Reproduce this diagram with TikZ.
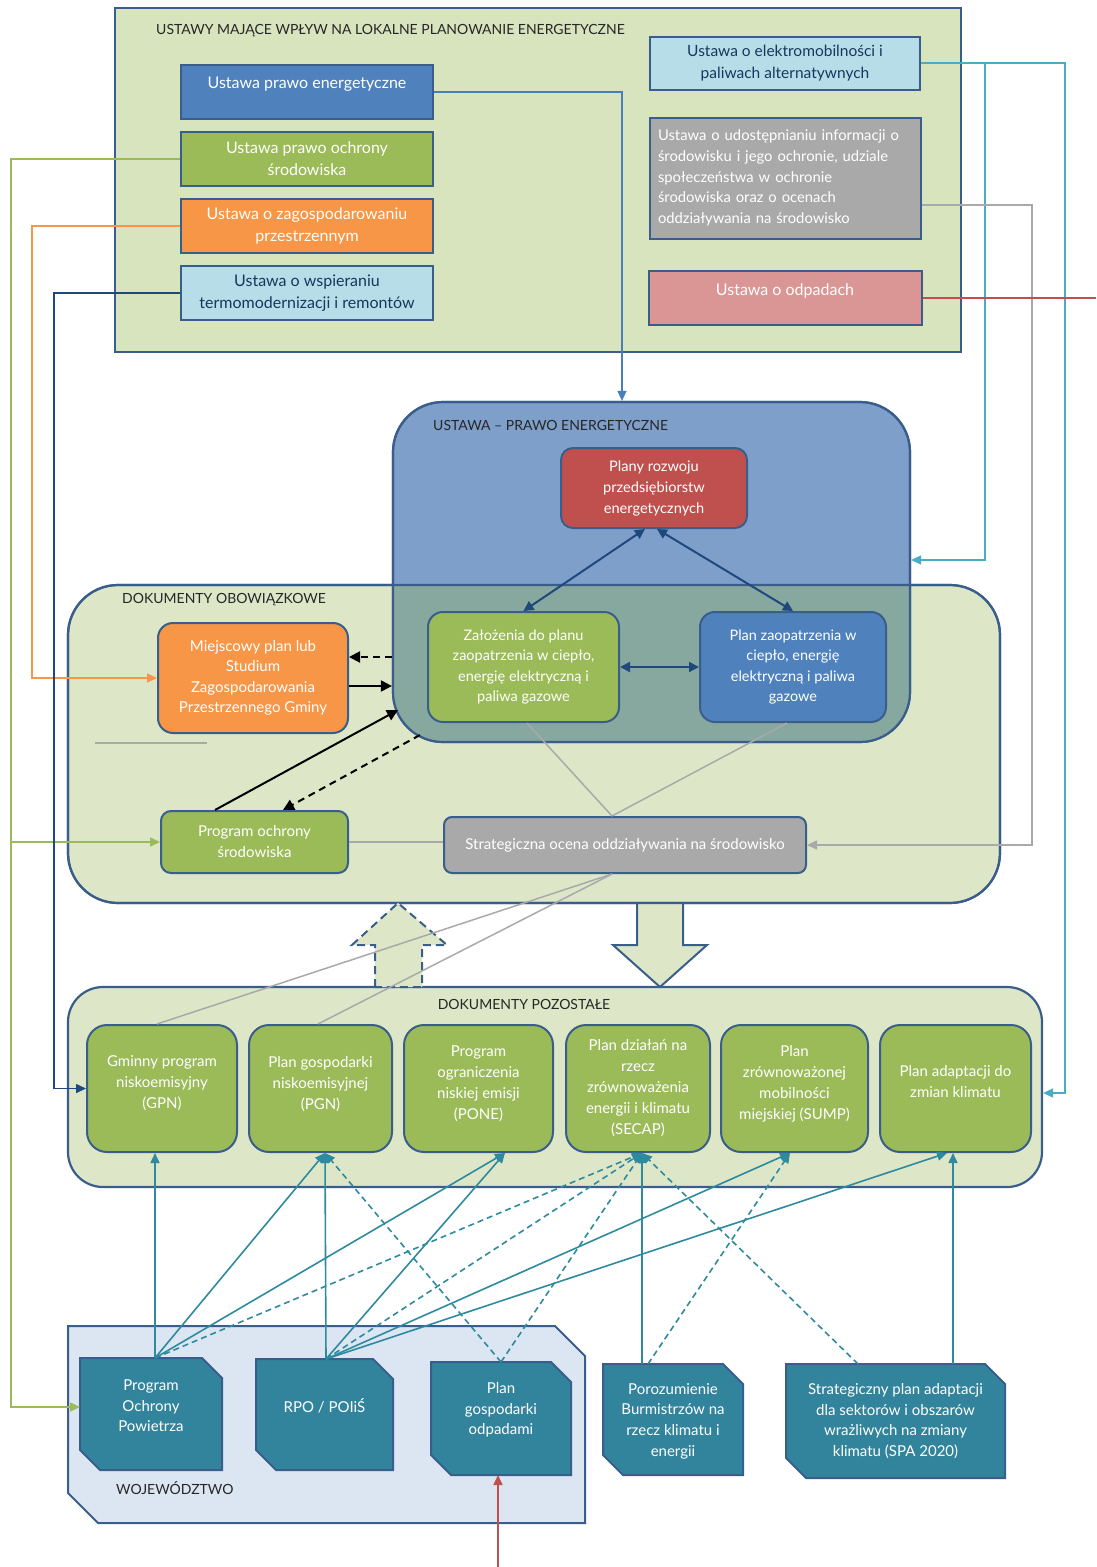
\documentclass[tikz,border=0pt]{standalone}
\usepackage{fontspec}
\setmainfont{Lato}
\usetikzlibrary{arrows.meta}
\definecolor{bord}{HTML}{3A5E8C}
\definecolor{lgreen}{HTML}{D8E4BD}
\definecolor{lgreenb}{HTML}{DDE7C8}
\definecolor{bluebox}{HTML}{7F9FCB}
\definecolor{overl}{HTML}{86A89F}
\definecolor{gr}{HTML}{9BBB59}
\definecolor{org}{HTML}{F79646}
\definecolor{blu}{HTML}{4F81BD}
\definecolor{rd}{HTML}{C0504D}
\definecolor{gry}{HTML}{A9A9A9}
\definecolor{pnk}{HTML}{D99694}
\definecolor{lbl}{HTML}{B7DEE8}
\definecolor{tbox}{HTML}{31849B}
\definecolor{woj}{HTML}{DCE6F2}
\definecolor{tealc}{HTML}{2E8A9E}
\definecolor{cyanl}{HTML}{4BACC6}
\definecolor{dblue}{HTML}{1F497D}
\definecolor{dtext}{HTML}{17375E}
\definecolor{lineblue}{HTML}{4A7EBB}
\newcommand\fsz[2]{\fontsize{#1pt}{#2pt}\selectfont}
\newcommand\snipshape[4]{\filldraw[fill=tbox, draw=bord, line width=2pt] (#1,#2) -- ({#3-20},#2) -- (#3,{#2+20}) -- (#3,#4) -- ({#1+20},#4) -- (#1,{#4-20}) -- cycle;}
\begin{document}
\begin{tikzpicture}[x=1pt,y=-1pt,
  cont/.style={draw=bord, line width=2.2pt},
  bx/.style={draw=bord, line width=2pt, text=white, align=center, inner sep=1pt},
  ttl/.style={text=black!85, font=\fsz{14}{17}, anchor=west, inner sep=0pt},
  wt/.style={text=white, align=center, inner sep=0pt},
  snipn/.style={draw=none, inner sep=0pt, outer sep=0pt},
  gbox/.style={bx, fill=gr, rounded corners=20pt, minimum height=127pt, font=\fsz{15}{21}},
  myarr/.style={-{Triangle[length=10pt,width=9pt]}},
  ln/.style={line width=1.6pt, myarr},
  gln/.style={draw=gry, line width=1.5pt},
  dbl/.style={draw=dblue, line width=2pt, {Triangle[length=10pt,width=10pt]}-{Triangle[length=10pt,width=10pt]}},
  blk/.style={draw=black, line width=2pt, -{Triangle[length=11pt,width=11pt]}},
  blkd/.style={blk, dash pattern=on 7pt off 5pt},
  tl/.style={draw=tealc, line width=1.6pt, -{Triangle[length=10pt,width=9pt]}},
  tld/.style={tl, dash pattern=on 6pt off 4pt}
]
\useasboundingbox (0,0) rectangle (1096,1567);

% ---------- top container ----------
\node[cont, fill=lgreen, minimum width=846pt, minimum height=344pt] (TOP) at (538,180) {};
\node[ttl] (TOPt) at (156,31) {USTAWY MAJĄCE WPŁYW NA LOKALNE PLANOWANIE ENERGETYCZNE};

\node[bx, fill=blu, minimum width=252pt, minimum height=54pt] (uPE) at (307,92) {};
\node[wt, font=\fsz{16}{22}] (uPEt) at (307,84) {Ustawa prawo energetyczne};
\node[bx, fill=gr, minimum width=252pt, minimum height=54pt, font=\fsz{16}{22}] (uPOS) at (307,159) {Ustawa prawo ochrony\\środowiska};
\node[bx, fill=org, minimum width=252pt, minimum height=54pt, font=\fsz{16}{22}] (uZP) at (307,226) {Ustawa o zagospodarowaniu\\przestrzennym};
\node[bx, fill=lbl, text=dtext, minimum width=252pt, minimum height=54pt, font=\fsz{16}{22}] (uTR) at (307,293) {Ustawa o wspieraniu\\termomodernizacji i remontów};
\node[bx, fill=lbl, text=dtext, minimum width=270pt, minimum height=53pt, font=\fsz{15.5}{22}] (uEM) at (785,63) {Ustawa o elektromobilności i\\paliwach alternatywnych};
\node[bx, fill=gry, minimum width=271pt, minimum height=121pt, text width=254pt, align=left, font=\fsz{14.8}{20.7}] (uOS) at (785,178) {Ustawa o udostępnianiu informacji o\\środowisku i jego ochronie, udziale\\społeczeństwa w ochronie\\środowiska oraz o ocenach\\oddziaływania na środowisko};
\node[bx, fill=pnk, minimum width=273pt, minimum height=54pt] (uOD) at (785,298) {};
\node[wt, font=\fsz{16}{22}] (uODt) at (785,291) {Ustawa o odpadach};

% ---------- middle containers ----------
\node[cont, fill=lgreenb, rounded corners=50pt, minimum width=932pt, minimum height=318pt] (DO) at (534,744) {};
\node[cont, fill=bluebox, rounded corners=50pt, minimum width=517pt, minimum height=340pt] (UPE) at (651.5,572) {};
\begin{scope}
  \clip[rounded corners=50pt] (68,585) rectangle (1000,903);
  \fill[overl, rounded corners=50pt] (393,402) rectangle (910,742);
\end{scope}
\draw[cont, rounded corners=50pt] (68,585) rectangle (1000,903);
\draw[cont, rounded corners=50pt] (393,402) rectangle (910,742);
\node[ttl] (UPEt) at (433,425) {USTAWA – PRAWO ENERGETYCZNE};
\node[ttl] (DOt) at (122,600) {DOKUMENTY OBOWIĄZKOWE};

\node[bx, fill=rd, rounded corners=12pt, minimum width=186pt, minimum height=80pt, font=\fsz{14.6}{21}] (PRE) at (654,488) {Plany rozwoju\\przedsiębiorstw\\energetycznych};
\node[bx, fill=gr, rounded corners=15pt, minimum width=191pt, minimum height=110pt, font=\fsz{14.5}{20.5}] (ZAL) at (523.5,667) {Założenia do planu\\zaopatrzenia w ciepło,\\energię elektryczną i\\paliwa gazowe};
\node[bx, fill=blu, rounded corners=15pt, minimum width=186pt, minimum height=110pt, font=\fsz{14.5}{20.5}] (PZ) at (793,667) {Plan zaopatrzenia w\\ciepło, energię\\elektryczną i paliwa\\gazowe};
\node[bx, fill=org, rounded corners=15pt, minimum width=190pt, minimum height=110pt, font=\fsz{15}{20.5}] (MPL) at (253,678) {Miejscowy plan lub\\Studium\\Zagospodarowania\\Przestrzennego Gminy};
\node[bx, fill=gr, rounded corners=10pt, minimum width=187pt, minimum height=62pt, font=\fsz{15}{21}] (POS2) at (254.5,842) {Program ochrony\\środowiska};
\node[bx, fill=gry, rounded corners=8pt, minimum width=362pt, minimum height=56pt, font=\fsz{15}{20}] (SOO) at (625,845) {Strategiczna ocena oddziaływania na środowisko};
\draw[gry, line width=2pt] (95,743) -- (207,743);

% ---------- lower container ----------
\node[cont, fill=lgreenb, rounded corners=35pt, minimum width=974pt, minimum height=200pt] (DP) at (555,1087) {};
\node[ttl, anchor=center] (DPt) at (524,1004) {DOKUMENTY POZOSTAŁE};
\node[gbox, minimum width=150pt] (GPN) at (162,1088.5) {Gminny program\\niskoemisyjny\\(GPN)\\[-9pt]};
\node[gbox, minimum width=143pt] (PGN) at (320.5,1088.5) {Plan gospodarki\\niskoemisyjnej\\(PGN)\\[-9pt]};
\node[gbox, minimum width=149pt] (PONE) at (478.5,1088.5) {Program\\ograniczenia\\niskiej emisji\\(PONE)\\[-9pt]};
\node[gbox, minimum width=144pt] (SECAP) at (638,1088.5) {Plan działań na\\rzecz\\zrównoważenia\\energii i klimatu\\(SECAP)};
\node[gbox, minimum width=147pt] (SUMP) at (794.5,1088.5) {Plan\\zrównoważonej\\mobilności\\miejskiej (SUMP)\\[-9pt]};
\node[gbox, minimum width=151pt] (ADA) at (955.5,1088.5) {Plan adaptacji do\\zmian klimatu\\[-6pt]};

% block arrows
\filldraw[fill=lgreenb, draw=bord, line width=2pt, dash pattern=on 8pt off 5pt] (375,987) -- (375,945) -- (352,945) -- (398,903) -- (447,945) -- (422,945) -- (422,987) -- cycle;
\filldraw[fill=lgreenb, draw=bord, line width=2pt] (637,903) -- (637,945) -- (613,945) -- (660,987) -- (707,945) -- (683,945) -- (683,903) -- cycle;

% ---------- wojewodztwo ----------
\filldraw[fill=woj, draw=bord, line width=2pt] (68,1326) -- (555,1326) -- (585,1356) -- (585,1523) -- (98,1523) -- (68,1493) -- cycle;
\node[ttl] (WOJt) at (116,1488) {WOJEWÓDZTWO};

\snipshape{80}{1358}{222}{1470}
\snipshape{256}{1359}{393}{1470}
\snipshape{431}{1362}{571}{1475}
\snipshape{603}{1364}{743}{1475}
\snipshape{786}{1364}{1005}{1478}
\node[snipn, minimum width=142pt, minimum height=112pt] (POP) at (151,1414) {};
\node[snipn, minimum width=137pt, minimum height=111pt] (RPO) at (324.5,1414.5) {};
\node[snipn, minimum width=140pt, minimum height=113pt] (PGO) at (501,1418.5) {};
\node[snipn, minimum width=140pt, minimum height=111pt] (POR) at (673,1419.5) {};
\node[snipn, minimum width=219pt, minimum height=114pt] (SPA) at (895.5,1421) {};
\node[wt, font=\fsz{15}{20.5}] (POPt) at (151,1406) {Program\\Ochrony\\Powietrza};
\node[wt, font=\fsz{15}{20.5}] (RPOt) at (324.5,1406) {RPO / POIiŚ};
\node[wt, font=\fsz{15}{20.5}] (PGOt) at (501,1410) {Plan\\gospodarki\\odpadami};
\node[wt, font=\fsz{15}{20.7}] (PORt) at (673,1421) {Porozumienie\\Burmistrzów na\\rzecz klimatu i\\energii};
\node[wt, font=\fsz{15}{20.7}] (SPAt) at (895.5,1421) {Strategiczny plan adaptacji\\dla sektorów i obszarów\\wrażliwych na zmiany\\klimatu (SPA 2020)};

% ---------- connectors from the laws ----------
\coordinate (cemb) at (985,63.5);
\coordinate (gbr) at (11,842);
\coordinate (redR) at (1096,298);
\coordinate (redB) at (498,1567);
\draw[ln, draw=lineblue] (uPE.east) -| ([xshift=-29.5pt]UPE.north);
\draw[ln, draw=cyanl] (uEM.east) -| (1065,1093) -- ([yshift=-6pt]DP.east);
\draw[ln, draw=cyanl] (cemb) |- ([yshift=12pt]UPE.east);
\draw[ln, draw=gry] ([yshift=-27pt]uOS.east) -| (1032,845) -- (SOO.east);
\draw[line width=1.6pt, draw=rd] (uOD.east) -- (redR);
\draw[ln, draw=rd] (redB) -- ([xshift=-3pt]PGO.south);
\draw[ln, draw=gr] (uPOS.west) -| (11,1407) -- ([yshift=7pt]POP.west);
\draw[ln, draw=gr] (gbr) -- (POS2.west);
\draw[ln, draw=org] (uZP.west) -| (32,678) -- (MPL.west);
\draw[ln, draw=dblue] (uTR.west) -| (54,1088.5) -- (GPN.west);

% ---------- inner arrows ----------
\coordinate (cA) at (398,710);
\coordinate (cB) at (420,735);
\draw[dbl] ([xshift=-9pt]PRE.south) -- (ZAL.north);
\draw[dbl] ([xshift=3pt]PRE.south) -- (PZ.north);
\draw[dbl] (ZAL.east) -- (PZ.west);
\draw[blkd] ([yshift=-85pt]UPE.west) -- ([yshift=21pt]MPL.east);
\draw[blk] ([yshift=-8pt]MPL.east) -- ([yshift=-114pt]UPE.west);
\draw[blk] ([xshift=-39.5pt]POS2.north) -- (cA);
\draw[blkd] (cB) -- ([xshift=28.5pt]POS2.north);
\draw[gln] ([xshift=3.5pt]ZAL.south) -- ([xshift=-13pt]SOO.north);
\draw[gln] ([xshift=-6pt]PZ.south) -- ([xshift=-13pt]SOO.north);
\draw[gln] (POS2.east) -- (POS2.east -| SOO.west);
\draw[gln] ([xshift=-13pt]SOO.south) -- ([xshift=-5pt]GPN.north);
\draw[gln] ([xshift=-13pt]SOO.south) -- ([xshift=-2.5pt]PGN.north);

% ---------- teal connectors ----------
\draw[tl] ([xshift=4pt]POP.north) -- ([xshift=-7pt]GPN.south);
\draw[tl] ([xshift=4pt]POP.north) -- ([xshift=4.5pt]PGN.south);
\draw[tl] ([xshift=4pt]POP.north) -- ([xshift=26.5pt]PONE.south);
\draw[tld] ([xshift=4pt]POP.north) -- ([xshift=4pt]SECAP.south);
\draw[tl] ([xshift=1.5pt]RPO.north) -- ([xshift=4.5pt]PGN.south);
\draw[tl] ([xshift=1.5pt]RPO.north) -- ([xshift=26.5pt]PONE.south);
\draw[tld] ([xshift=1.5pt]RPO.north) -- ([xshift=4pt]SECAP.south);
\draw[tl] ([xshift=1.5pt]RPO.north) -- ([xshift=-4.5pt]SUMP.south);
\draw[tl] ([xshift=1.5pt]RPO.north) -- ([xshift=-8.5pt]ADA.south);
\draw[tld] (PGO.north) -- ([xshift=4.5pt]PGN.south);
\draw[tld] (PGO.north) -- ([xshift=4pt]SECAP.south);
\draw[tl] ([xshift=-31pt]POR.north) -- ([xshift=4pt]SECAP.south);
\draw[tld] ([xshift=-25pt]POR.north) -- ([xshift=-4.5pt]SUMP.south);
\draw[tld] ([xshift=-37.5pt]SPA.north) -- ([xshift=4pt]SECAP.south);
\draw[tl] ([xshift=57.5pt]SPA.north) -- ([xshift=-2.5pt]ADA.south);
\end{tikzpicture}
\end{document}
